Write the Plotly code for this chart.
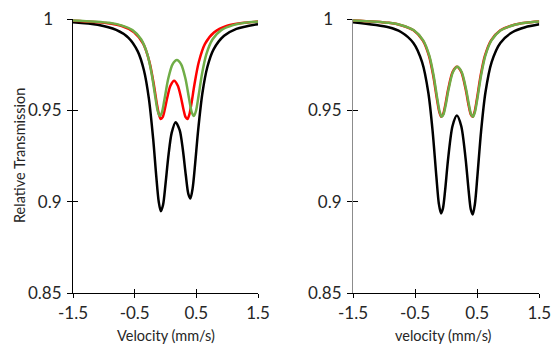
import plotly.graph_objects as go

# ---------------- data ----------------
# Left panel
lb_v = [-1.5, -1.1, -0.8, -0.6, -0.45, -0.35, -0.27, -0.2, -0.15, -0.11, -0.076, -0.04, 0.0, 0.05, 0.1,
        0.164, 0.23, 0.28, 0.33, 0.37, 0.404, 0.44, 0.48, 0.53, 0.6, 0.68, 0.78, 0.95, 1.15, 1.5]
lb_t = [0.9982, 0.9968, 0.9940, 0.9897, 0.9823, 0.9720, 0.9566, 0.9344, 0.9141, 0.9001, 0.8949, 0.8983, 0.9097, 0.9260, 0.9377,
        0.9436, 0.9392, 0.9289, 0.9144, 0.9044, 0.9019, 0.9074, 0.9206, 0.9394, 0.9598, 0.9739, 0.9834, 0.9908, 0.9946, 0.9972]

lr_v = [-1.5, -0.96, -0.71, -0.51, -0.36, -0.26, -0.19, -0.14, -0.106, -0.076, -0.046, -0.01, 0.03, 0.08, 0.14,
        0.2, 0.25, 0.29, 0.326, 0.356, 0.386, 0.42, 0.47, 0.54, 0.64, 0.79, 0.99, 1.24, 1.5]
lr_t = [0.9991, 0.9978, 0.9962, 0.9928, 0.9864, 0.9765, 0.9643, 0.9536, 0.9477, 0.9453, 0.9463, 0.9508, 0.9572, 0.9635, 0.9663,
        0.9635, 0.9572, 0.9508, 0.9463, 0.9453, 0.9477, 0.9536, 0.9643, 0.9765, 0.9864, 0.9928, 0.9962, 0.9978, 0.9986]

lg_v = [-1.5, -0.916, -0.716, -0.536, -0.396, -0.296, -0.226, -0.166, -0.126, -0.092, -0.059, -0.016, 0.044, 0.114, 0.184,
        0.254, 0.324, 0.384, 0.427, 0.46, 0.494, 0.534, 0.594, 0.664, 0.764, 0.904, 1.084, 1.284, 1.5]
lg_t = [0.9992, 0.9979, 0.9965, 0.9939, 0.9889, 0.9809, 0.9703, 0.9575, 0.9497, 0.9469, 0.9488, 0.9561, 0.9673, 0.9752, 0.9776,
        0.9752, 0.9673, 0.9561, 0.9488, 0.9469, 0.9497, 0.9575, 0.9703, 0.9809, 0.9889, 0.9939, 0.9965, 0.9979, 0.9986]

# Right panel
rb_v = [-1.5, -0.9275, -0.7275, -0.5275, -0.3875, -0.2875, -0.2175, -0.1575, -0.1175, -0.083, -0.0525, -0.0175, 0.0325, 0.1025, 0.1725,
        0.2425, 0.3125, 0.3625, 0.3975, 0.428, 0.4625, 0.5025, 0.5625, 0.6325, 0.7325, 0.8725, 1.0725, 1.2725, 1.5]
rb_t = [0.9982, 0.9955, 0.9929, 0.9869, 0.9764, 0.9598, 0.9386, 0.9138, 0.8990, 0.8937, 0.8963, 0.9060, 0.9238, 0.9415, 0.9472,
        0.9415, 0.9238, 0.9060, 0.8958, 0.8931, 0.8987, 0.9138, 0.9386, 0.9598, 0.9764, 0.9869, 0.9929, 0.9955, 0.9971]

rr_v = [-1.5, -0.9265, -0.7265, -0.5265, -0.3765, -0.2765, -0.2065, -0.1465, -0.1085, -0.078, -0.0485, -0.0165, 0.0335, 0.1035, 0.1735,
        0.2435, 0.3135, 0.3635, 0.3955, 0.425, 0.4555, 0.4935, 0.5535, 0.6235, 0.7235, 0.8735, 1.0735, 1.2735, 1.5]
rr_t = [0.9992, 0.9979, 0.9966, 0.9938, 0.9883, 0.9798, 0.9687, 0.9558, 0.9489, 0.9465, 0.9479, 0.9525, 0.9617, 0.9710, 0.9739,
        0.9710, 0.9617, 0.9525, 0.9479, 0.9465, 0.9489, 0.9558, 0.9687, 0.9798, 0.9883, 0.9938, 0.9966, 0.9979, 0.9986]

rg_v = [-1.5, -0.92, -0.72, -0.52, -0.37, -0.27, -0.2, -0.14, -0.102, -0.0715, -0.042, -0.01, 0.04, 0.11, 0.18,
        0.25, 0.32, 0.37, 0.402, 0.4315, 0.462, 0.5, 0.56, 0.63, 0.73, 0.88, 1.08, 1.28, 1.5]
rg_t = [0.9992, 0.9979, 0.9966, 0.9938, 0.9883, 0.9798, 0.9687, 0.9558, 0.9489, 0.9465, 0.9479, 0.9525, 0.9617, 0.9710, 0.9739,
        0.9710, 0.9617, 0.9525, 0.9479, 0.9465, 0.9489, 0.9558, 0.9687, 0.9798, 0.9883, 0.9938, 0.9966, 0.9979, 0.9986]

x_ticks = [-1.5, -0.5, 0.5, 1.5]
x_tick_text = ["-1.5", "-0.5", "0.5", "1.5"]
y_ticks = [0.85, 0.9, 0.95, 1.0]
y_tick_text = ["0.85", "0.9", "0.95", "1\u2002"]

left_xtitle = "Velocity (mm/s)"
right_xtitle = "velocity (mm/s)"
ytitle = "Relative Transmission"

BLACK = "#000000"
RED = "#FF0000"
GREEN = "#70AD47"
FONT = "Lato"
TXT = "#262626"

W, H = 551, 344

fig = go.Figure()


def add_line(x, y, color, xa, ya):
    fig.add_trace(go.Scatter(x=x, y=y, mode="lines",
                             line=dict(color=color, width=2.5, shape="spline", smoothing=0.8),
                             xaxis=xa, yaxis=ya, showlegend=False, hoverinfo="skip"))


add_line(lb_v, lb_t, BLACK, "x", "y")
add_line(lr_v, lr_t, RED, "x", "y")
add_line(lg_v, lg_t, GREEN, "x", "y")
add_line(rb_v, rb_t, BLACK, "x2", "y2")
add_line(rr_v, rr_t, RED, "x2", "y2")
add_line(rg_v, rg_t, GREEN, "x2", "y2")

# empty traces so the overlay (inner-tick) axes are drawn
for xa, ya in [("x3", "y"), ("x", "y3"), ("x4", "y2"), ("x2", "y4")]:
    fig.add_trace(go.Scatter(x=[None], y=[None], xaxis=xa, yaxis=ya, showlegend=False, hoverinfo="skip"))

dom_l = [73 / W, 258 / W]
dom_r = [353 / W, 539.3 / W]
dom_y = [1 - 293.3 / H, 1 - 19 / H]

xrange = [-1.5, 1.5]
yrange = [0.85, 1.0]

tickfont = dict(family=FONT, size=17, color=TXT)


def xaxis_main(domain, anchor, linecolor):
    return dict(domain=domain, anchor=anchor, range=xrange, tickmode="array", tickvals=x_ticks,
                ticktext=x_tick_text, ticks="outside", ticklen=4, tickwidth=1.2, tickcolor="#000",
                showline=True, linecolor=linecolor, linewidth=1.2, showgrid=False, zeroline=False,
                tickfont=tickfont, automargin=False, ticklabelstandoff=0, ticklabeloverflow="allow")


def yaxis_main(domain, anchor, linecolor):
    return dict(domain=domain, anchor=anchor, range=yrange, tickmode="array", tickvals=y_ticks,
                ticktext=y_tick_text, ticks="outside", ticklen=5, tickwidth=1.2, tickcolor="#000",
                showline=True, linecolor=linecolor, linewidth=1.2, showgrid=False, zeroline=False,
                tickfont=tickfont, automargin=False, ticklabelstandoff=2, ticklabeloverflow="allow")


def overlay_x(over, anchor, domain):
    return dict(overlaying=over, anchor=anchor, domain=domain, range=xrange, tickmode="array",
                tickvals=x_ticks, ticks="inside", ticklen=4, tickwidth=1.2, tickcolor="#000",
                showticklabels=False, showline=False, showgrid=False, zeroline=False)


def overlay_y(over, anchor, domain):
    return dict(overlaying=over, anchor=anchor, domain=domain, range=yrange, tickmode="array",
                tickvals=y_ticks, ticks="inside", ticklen=5, tickwidth=1.2, tickcolor="#000",
                showticklabels=False, showline=False, showgrid=False, zeroline=False)


fig.update_layout(
    width=W, height=H,
    margin=dict(l=0, r=0, t=0, b=0),
    paper_bgcolor="white", plot_bgcolor="white",
    font=dict(family=FONT, color=TXT),
    xaxis=xaxis_main(dom_l, "y", "#000"),
    yaxis=yaxis_main(dom_y, "x", "#000"),
    xaxis2=xaxis_main(dom_r, "y2", "#000"),
    yaxis2=yaxis_main(dom_y, "x2", "#8c8c8c"),
    xaxis3=overlay_x("x", "y", dom_l),
    yaxis3=overlay_y("y", "x", dom_y),
    xaxis4=overlay_x("x2", "y2", dom_r),
    yaxis4=overlay_y("y2", "x2", dom_y),
    annotations=[
        dict(text=left_xtitle, x=165.5 / W, y=1 - 335 / H, xref="paper", yref="paper",
             xanchor="center", yanchor="middle", showarrow=False,
             font=dict(family=FONT, size=14.5, color=TXT)),
        dict(text=right_xtitle, x=443.5 / W, y=1 - 335 / H, xref="paper", yref="paper",
             xanchor="center", yanchor="middle", showarrow=False,
             font=dict(family=FONT, size=14.5, color=TXT)),
        dict(text=ytitle, x=20 / W, y=1 - 156 / H, xref="paper", yref="paper",
             xanchor="center", yanchor="middle", textangle=-90, showarrow=False,
             font=dict(family=FONT, size=14.5, color=TXT)),
    ],
)

fig.write_html("out.html")
